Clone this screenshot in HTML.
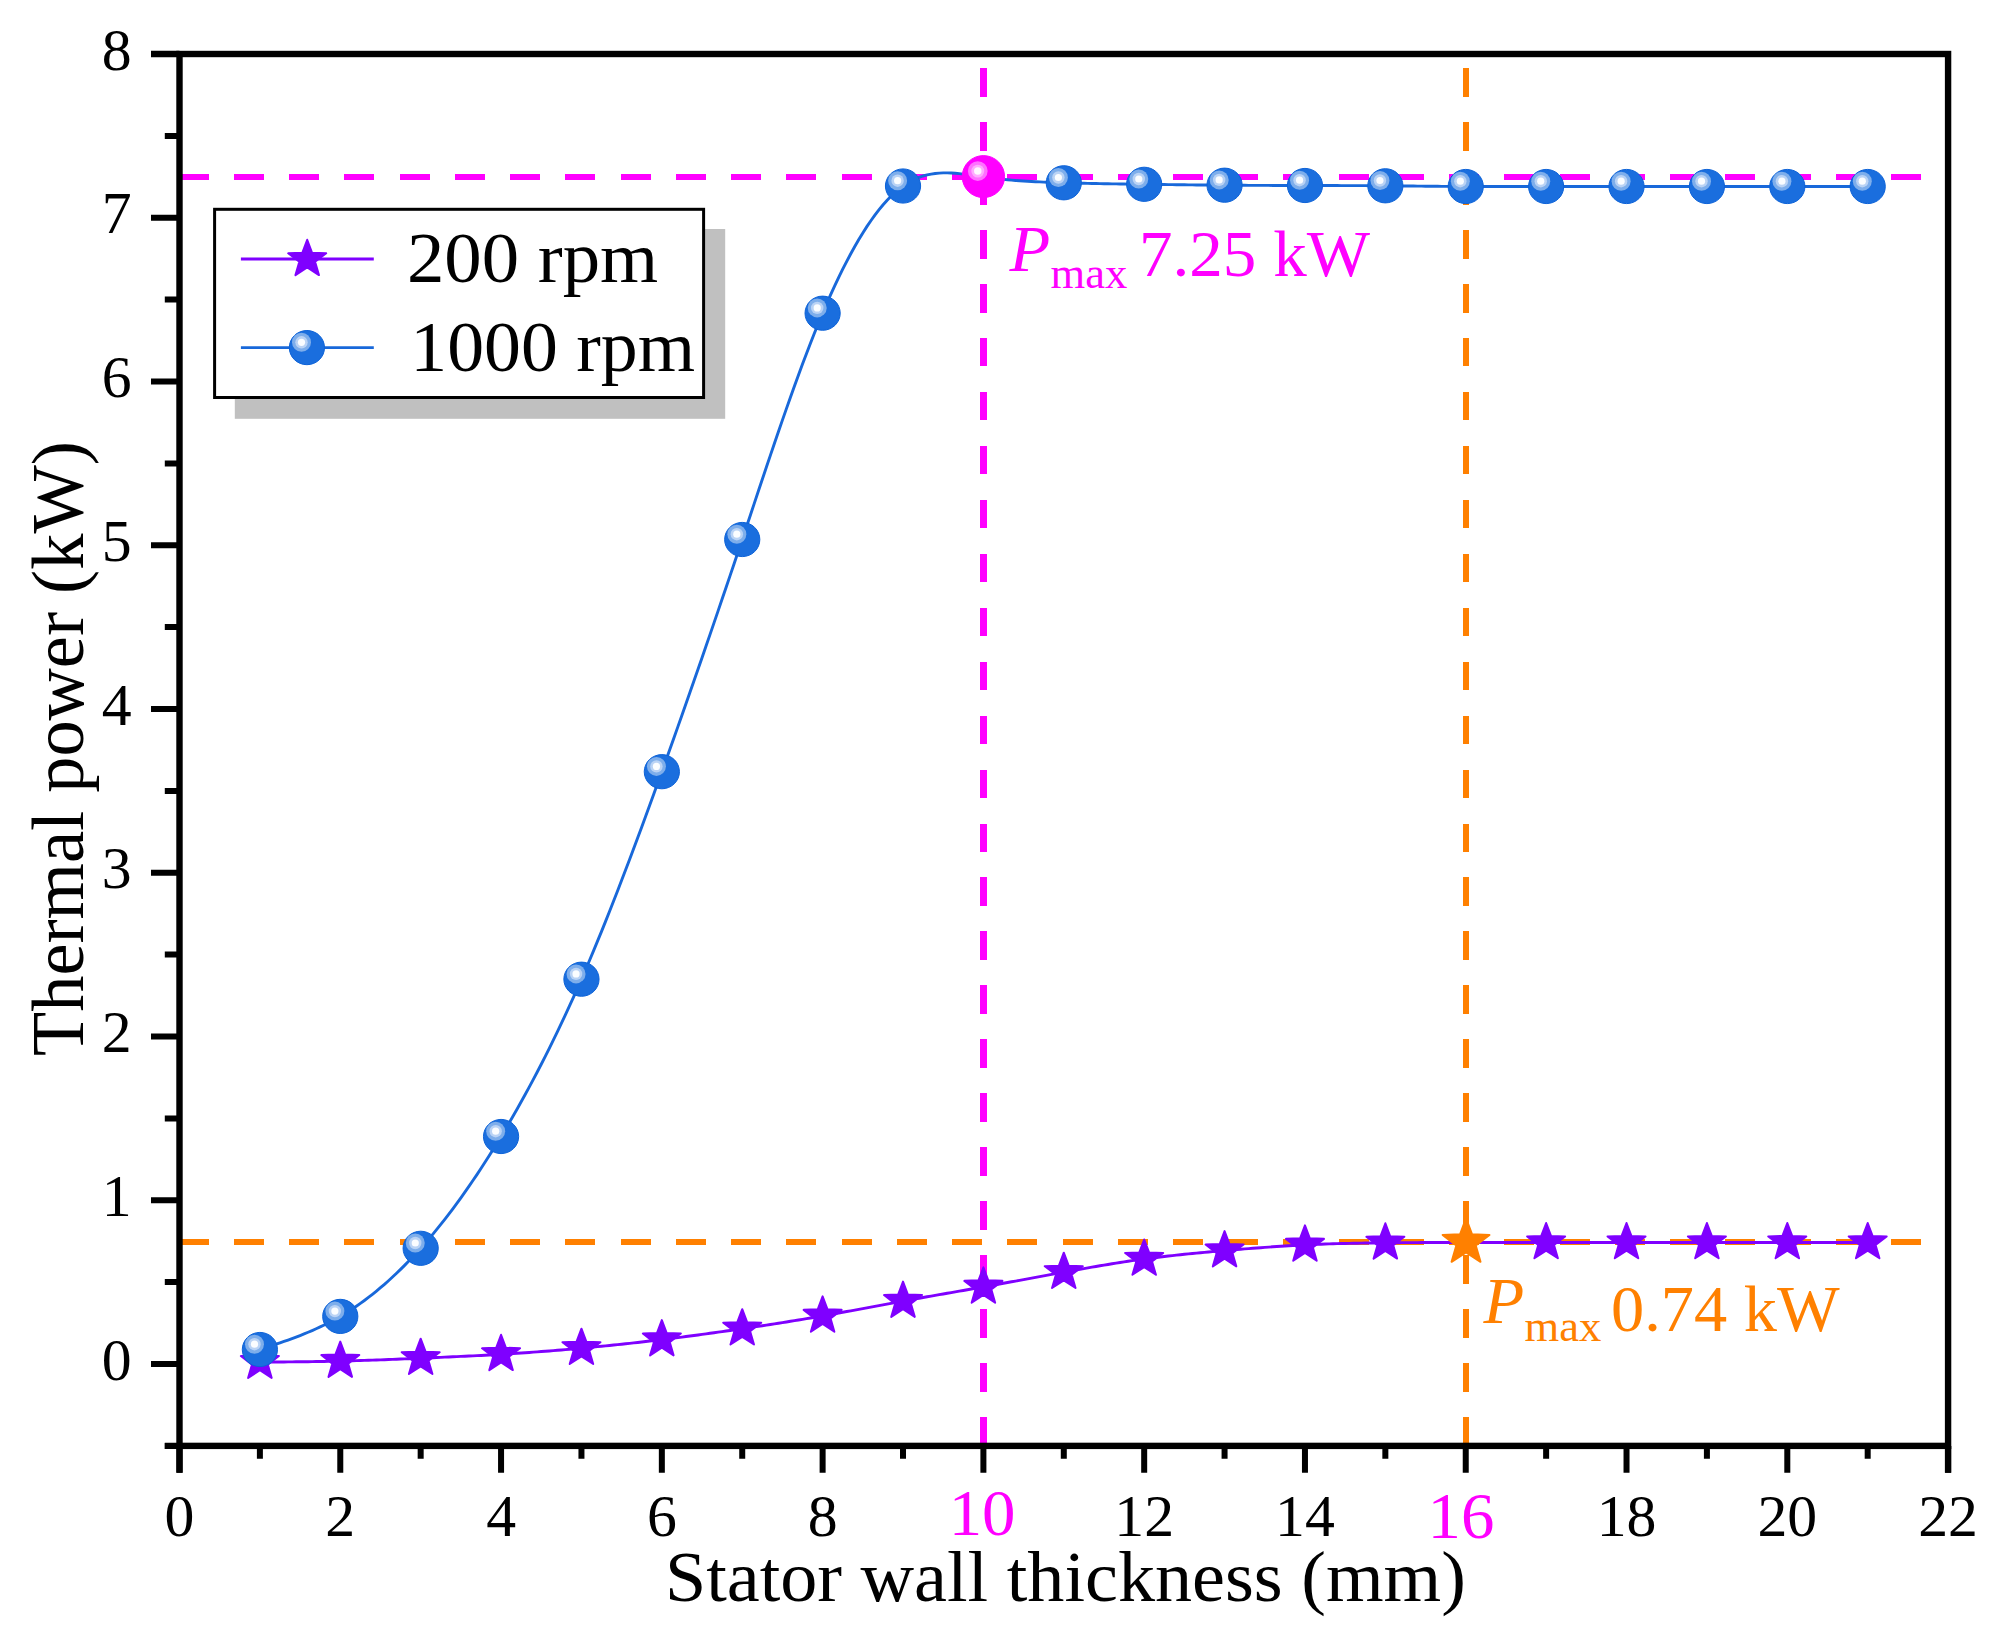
<!DOCTYPE html>
<html lang="en"><head><meta charset="utf-8"><title>Thermal power vs stator wall thickness</title>
<style>html,body{margin:0;padding:0;background:#fff}svg{display:block}text{font-family:'Liberation Serif',serif}</style></head><body>
<svg width="1999" height="1641" viewBox="0 0 1999 1641">
<rect width="1999" height="1641" fill="#fff"/>
<g fill="none" shape-rendering="crispEdges">
<line x1="178.7" y1="1242.1" x2="1948.08" y2="1242.1" stroke="#ff8000" stroke-width="6.5" stroke-dasharray="30 25.24"/>
<line x1="178.7" y1="176.8" x2="1948.08" y2="176.8" stroke="#ff00ff" stroke-width="6.5" stroke-dasharray="30 25.24"/>
<line x1="983.4" y1="1445.88" x2="983.4" y2="54" stroke="#ff00ff" stroke-width="7" stroke-dasharray="28.7 25.27"/>
<line x1="1466.04" y1="1445.88" x2="1466.04" y2="54" stroke="#ff8000" stroke-width="6" stroke-dasharray="28.7 25.27"/>
</g>
<path d="M259.89,1362.1 L263.91,1362.07 L267.93,1362.05 L271.95,1362.02 L275.97,1361.99 L279.99,1361.96 L284.01,1361.93 L288.03,1361.89 L292.05,1361.86 L296.07,1361.82 L300.09,1361.78 L304.1,1361.73 L308.12,1361.68 L312.14,1361.63 L316.16,1361.57 L320.18,1361.5 L324.2,1361.44 L328.22,1361.36 L332.24,1361.28 L336.26,1361.19 L340.28,1361.1 L344.3,1361 L348.32,1360.89 L352.34,1360.78 L356.36,1360.66 L360.38,1360.53 L364.4,1360.4 L368.42,1360.27 L372.44,1360.13 L376.46,1359.98 L380.48,1359.83 L384.49,1359.68 L388.51,1359.53 L392.53,1359.37 L396.55,1359.21 L400.57,1359.04 L404.59,1358.88 L408.61,1358.71 L412.63,1358.54 L416.65,1358.37 L420.67,1358.2 L424.69,1358.03 L428.71,1357.86 L432.73,1357.68 L436.75,1357.51 L440.77,1357.34 L444.79,1357.16 L448.81,1356.98 L452.83,1356.8 L456.85,1356.61 L460.87,1356.42 L464.88,1356.23 L468.9,1356.04 L472.92,1355.84 L476.94,1355.63 L480.96,1355.43 L484.98,1355.21 L489,1354.99 L493.02,1354.77 L497.04,1354.54 L501.06,1354.3 L505.08,1354.06 L509.1,1353.81 L513.12,1353.55 L517.14,1353.29 L521.16,1353.02 L525.18,1352.74 L529.2,1352.46 L533.22,1352.17 L537.24,1351.87 L541.25,1351.57 L545.27,1351.26 L549.29,1350.95 L553.31,1350.63 L557.33,1350.3 L561.35,1349.96 L565.37,1349.62 L569.39,1349.28 L573.41,1348.92 L577.43,1348.57 L581.45,1348.2 L585.47,1347.83 L589.49,1347.45 L593.51,1347.07 L597.53,1346.68 L601.55,1346.28 L605.57,1345.88 L609.59,1345.47 L613.61,1345.06 L617.63,1344.64 L621.64,1344.21 L625.66,1343.78 L629.68,1343.34 L633.7,1342.89 L637.72,1342.44 L641.74,1341.98 L645.76,1341.52 L649.78,1341.05 L653.8,1340.57 L657.82,1340.09 L661.84,1339.6 L665.86,1339.11 L669.88,1338.6 L673.9,1338.1 L677.92,1337.58 L681.94,1337.07 L685.96,1336.54 L689.98,1336.01 L694,1335.48 L698.02,1334.94 L702.03,1334.39 L706.05,1333.85 L710.07,1333.29 L714.09,1332.73 L718.11,1332.17 L722.13,1331.6 L726.15,1331.03 L730.17,1330.45 L734.19,1329.87 L738.21,1329.29 L742.23,1328.7 L746.25,1328.11 L750.27,1327.51 L754.29,1326.91 L758.31,1326.31 L762.33,1325.7 L766.35,1325.09 L770.37,1324.47 L774.39,1323.85 L778.41,1323.22 L782.42,1322.59 L786.44,1321.95 L790.46,1321.3 L794.48,1320.65 L798.5,1319.99 L802.52,1319.33 L806.54,1318.66 L810.56,1317.98 L814.58,1317.29 L818.6,1316.6 L822.62,1315.9 L826.64,1315.19 L830.66,1314.48 L834.68,1313.75 L838.7,1313.03 L842.72,1312.29 L846.74,1311.55 L850.76,1310.81 L854.78,1310.07 L858.8,1309.32 L862.82,1308.57 L866.83,1307.82 L870.85,1307.06 L874.87,1306.31 L878.89,1305.56 L882.91,1304.81 L886.93,1304.06 L890.95,1303.32 L894.97,1302.57 L898.99,1301.83 L903.01,1301.1 L907.03,1300.37 L911.05,1299.65 L915.07,1298.93 L919.09,1298.21 L923.11,1297.5 L927.13,1296.79 L931.15,1296.08 L935.17,1295.37 L939.19,1294.67 L943.21,1293.97 L947.22,1293.26 L951.24,1292.56 L955.26,1291.86 L959.28,1291.16 L963.3,1290.45 L967.32,1289.75 L971.34,1289.04 L975.36,1288.33 L979.38,1287.62 L983.4,1286.9 L987.42,1286.18 L991.44,1285.46 L995.46,1284.73 L999.48,1284 L1003.5,1283.27 L1007.52,1282.54 L1011.54,1281.8 L1015.56,1281.06 L1019.58,1280.32 L1023.6,1279.58 L1027.61,1278.84 L1031.63,1278.1 L1035.65,1277.36 L1039.67,1276.62 L1043.69,1275.88 L1047.71,1275.14 L1051.73,1274.4 L1055.75,1273.67 L1059.77,1272.93 L1063.79,1272.2 L1067.81,1271.47 L1071.83,1270.74 L1075.85,1270.02 L1079.87,1269.3 L1083.89,1268.59 L1087.91,1267.88 L1091.93,1267.18 L1095.95,1266.49 L1099.97,1265.8 L1103.99,1265.12 L1108,1264.46 L1112.02,1263.8 L1116.04,1263.15 L1120.06,1262.52 L1124.08,1261.9 L1128.1,1261.29 L1132.12,1260.69 L1136.14,1260.11 L1140.16,1259.55 L1144.18,1259 L1148.2,1258.47 L1152.22,1257.95 L1156.24,1257.45 L1160.26,1256.96 L1164.28,1256.49 L1168.3,1256.03 L1172.32,1255.58 L1176.34,1255.15 L1180.36,1254.72 L1184.38,1254.31 L1188.39,1253.9 L1192.41,1253.51 L1196.43,1253.12 L1200.45,1252.75 L1204.47,1252.37 L1208.49,1252.01 L1212.51,1251.65 L1216.53,1251.3 L1220.55,1250.95 L1224.57,1250.6 L1228.59,1250.26 L1232.61,1249.92 L1236.63,1249.58 L1240.65,1249.25 L1244.67,1248.92 L1248.69,1248.6 L1252.71,1248.29 L1256.73,1247.98 L1260.75,1247.68 L1264.77,1247.38 L1268.78,1247.09 L1272.8,1246.81 L1276.82,1246.54 L1280.84,1246.27 L1284.86,1246.02 L1288.88,1245.77 L1292.9,1245.54 L1296.92,1245.32 L1300.94,1245.1 L1304.96,1244.9 L1308.98,1244.71 L1313,1244.53 L1317.02,1244.36 L1321.04,1244.21 L1325.06,1244.06 L1329.08,1243.92 L1333.1,1243.79 L1337.12,1243.67 L1341.14,1243.56 L1345.15,1243.46 L1349.17,1243.37 L1353.19,1243.28 L1357.21,1243.2 L1361.23,1243.13 L1365.25,1243.06 L1369.27,1243 L1373.29,1242.94 L1377.31,1242.89 L1381.33,1242.84 L1385.35,1242.8 L1389.37,1242.76 L1393.39,1242.73 L1397.41,1242.69 L1401.43,1242.67 L1405.45,1242.64 L1409.47,1242.62 L1413.49,1242.6 L1417.51,1242.58 L1421.53,1242.56 L1425.55,1242.55 L1429.56,1242.54 L1433.58,1242.53 L1437.6,1242.52 L1441.62,1242.52 L1445.64,1242.51 L1449.66,1242.51 L1453.68,1242.51 L1457.7,1242.5 L1461.72,1242.5 L1465.74,1242.5 L1469.76,1242.5 L1473.78,1242.5 L1477.8,1242.5 L1481.82,1242.5 L1485.84,1242.5 L1489.86,1242.5 L1493.88,1242.5 L1497.9,1242.5 L1501.92,1242.5 L1505.93,1242.5 L1509.95,1242.5 L1513.97,1242.5 L1517.99,1242.5 L1522.01,1242.5 L1526.03,1242.5 L1530.05,1242.5 L1534.07,1242.5 L1538.09,1242.5 L1542.11,1242.5 L1546.13,1242.5 L1550.15,1242.5 L1554.17,1242.5 L1558.19,1242.5 L1562.21,1242.5 L1566.23,1242.5 L1570.25,1242.5 L1574.27,1242.5 L1578.29,1242.5 L1582.31,1242.5 L1586.33,1242.5 L1590.34,1242.5 L1594.36,1242.5 L1598.38,1242.5 L1602.4,1242.5 L1606.42,1242.5 L1610.44,1242.5 L1614.46,1242.5 L1618.48,1242.5 L1622.5,1242.5 L1626.52,1242.5 L1630.54,1242.5 L1634.56,1242.5 L1638.58,1242.5 L1642.6,1242.5 L1646.62,1242.5 L1650.64,1242.5 L1654.66,1242.5 L1658.68,1242.5 L1662.7,1242.5 L1666.71,1242.5 L1670.73,1242.5 L1674.75,1242.5 L1678.77,1242.5 L1682.79,1242.5 L1686.81,1242.5 L1690.83,1242.5 L1694.85,1242.5 L1698.87,1242.5 L1702.89,1242.5 L1706.91,1242.5 L1710.93,1242.5 L1714.95,1242.5 L1718.97,1242.5 L1722.99,1242.5 L1727.01,1242.5 L1731.03,1242.5 L1735.05,1242.5 L1739.07,1242.5 L1743.09,1242.5 L1747.11,1242.5 L1751.12,1242.5 L1755.14,1242.5 L1759.16,1242.5 L1763.18,1242.5 L1767.2,1242.5 L1771.22,1242.5 L1775.24,1242.5 L1779.26,1242.5 L1783.28,1242.5 L1787.3,1242.5 L1791.32,1242.5 L1795.34,1242.5 L1799.36,1242.5 L1803.38,1242.5 L1807.4,1242.5 L1811.42,1242.5 L1815.44,1242.5 L1819.46,1242.5 L1823.48,1242.5 L1827.5,1242.5 L1831.51,1242.5 L1835.53,1242.5 L1839.55,1242.5 L1843.57,1242.5 L1847.59,1242.5 L1851.61,1242.5 L1855.63,1242.5 L1859.65,1242.5 L1863.67,1242.5 L1867.69,1242.5" fill="none" stroke="#7f00ff" stroke-width="2.9"/>
<polygon points="259.89,1342.6 264.77,1355.55 278.9,1356.07 267.78,1364.6 271.64,1377.88 259.89,1370.19 248.14,1377.88 252,1364.6 240.88,1356.07 255.01,1355.55" fill="#7f00ff" stroke="#7f00ff" stroke-width="2" stroke-linejoin="round"/>
<polygon points="340.28,1341.6 345.16,1354.55 359.29,1355.07 348.17,1363.6 352.03,1376.88 340.28,1369.19 328.53,1376.88 332.39,1363.6 321.27,1355.07 335.4,1354.55" fill="#7f00ff" stroke="#7f00ff" stroke-width="2" stroke-linejoin="round"/>
<polygon points="420.67,1338.7 425.55,1351.65 439.68,1352.17 428.56,1360.7 432.42,1373.98 420.67,1366.29 408.92,1373.98 412.78,1360.7 401.66,1352.17 415.79,1351.65" fill="#7f00ff" stroke="#7f00ff" stroke-width="2" stroke-linejoin="round"/>
<polygon points="501.06,1334.8 505.94,1347.75 520.07,1348.27 508.95,1356.8 512.81,1370.08 501.06,1362.39 489.31,1370.08 493.17,1356.8 482.05,1348.27 496.18,1347.75" fill="#7f00ff" stroke="#7f00ff" stroke-width="2" stroke-linejoin="round"/>
<polygon points="581.45,1328.7 586.33,1341.65 600.46,1342.17 589.34,1350.7 593.2,1363.98 581.45,1356.29 569.7,1363.98 573.56,1350.7 562.44,1342.17 576.57,1341.65" fill="#7f00ff" stroke="#7f00ff" stroke-width="2" stroke-linejoin="round"/>
<polygon points="661.84,1320.1 666.72,1333.05 680.85,1333.57 669.73,1342.1 673.59,1355.38 661.84,1347.69 650.09,1355.38 653.95,1342.1 642.83,1333.57 656.96,1333.05" fill="#7f00ff" stroke="#7f00ff" stroke-width="2" stroke-linejoin="round"/>
<polygon points="742.23,1309.2 747.11,1322.15 761.24,1322.67 750.12,1331.2 753.98,1344.48 742.23,1336.79 730.48,1344.48 734.34,1331.2 723.22,1322.67 737.35,1322.15" fill="#7f00ff" stroke="#7f00ff" stroke-width="2" stroke-linejoin="round"/>
<polygon points="822.62,1296.4 827.5,1309.35 841.63,1309.87 830.51,1318.4 834.37,1331.68 822.62,1323.99 810.87,1331.68 814.73,1318.4 803.61,1309.87 817.74,1309.35" fill="#7f00ff" stroke="#7f00ff" stroke-width="2" stroke-linejoin="round"/>
<polygon points="903.01,1281.6 907.89,1294.55 922.02,1295.07 910.9,1303.6 914.76,1316.88 903.01,1309.19 891.26,1316.88 895.12,1303.6 884,1295.07 898.13,1294.55" fill="#7f00ff" stroke="#7f00ff" stroke-width="2" stroke-linejoin="round"/>
<polygon points="983.4,1267.4 988.28,1280.35 1002.41,1280.87 991.29,1289.4 995.15,1302.68 983.4,1294.99 971.65,1302.68 975.51,1289.4 964.39,1280.87 978.52,1280.35" fill="#7f00ff" stroke="#7f00ff" stroke-width="2" stroke-linejoin="round"/>
<polygon points="1063.79,1252.7 1068.67,1265.65 1082.8,1266.17 1071.68,1274.7 1075.54,1287.98 1063.79,1280.29 1052.04,1287.98 1055.9,1274.7 1044.78,1266.17 1058.91,1265.65" fill="#7f00ff" stroke="#7f00ff" stroke-width="2" stroke-linejoin="round"/>
<polygon points="1144.18,1239.5 1149.06,1252.45 1163.19,1252.97 1152.07,1261.5 1155.93,1274.78 1144.18,1267.09 1132.43,1274.78 1136.29,1261.5 1125.17,1252.97 1139.3,1252.45" fill="#7f00ff" stroke="#7f00ff" stroke-width="2" stroke-linejoin="round"/>
<polygon points="1224.57,1231.1 1229.45,1244.05 1243.58,1244.57 1232.46,1253.1 1236.32,1266.38 1224.57,1258.69 1212.82,1266.38 1216.68,1253.1 1205.56,1244.57 1219.69,1244.05" fill="#7f00ff" stroke="#7f00ff" stroke-width="2" stroke-linejoin="round"/>
<polygon points="1304.96,1225.4 1309.84,1238.35 1323.97,1238.87 1312.85,1247.4 1316.71,1260.68 1304.96,1252.99 1293.21,1260.68 1297.07,1247.4 1285.95,1238.87 1300.08,1238.35" fill="#7f00ff" stroke="#7f00ff" stroke-width="2" stroke-linejoin="round"/>
<polygon points="1385.35,1223.3 1390.23,1236.25 1404.36,1236.77 1393.24,1245.3 1397.1,1258.58 1385.35,1250.89 1373.6,1258.58 1377.46,1245.3 1366.34,1236.77 1380.47,1236.25" fill="#7f00ff" stroke="#7f00ff" stroke-width="2" stroke-linejoin="round"/>
<polygon points="1546.13,1223 1551.01,1235.95 1565.14,1236.47 1554.02,1245 1557.88,1258.28 1546.13,1250.59 1534.38,1258.28 1538.24,1245 1527.12,1236.47 1541.25,1235.95" fill="#7f00ff" stroke="#7f00ff" stroke-width="2" stroke-linejoin="round"/>
<polygon points="1626.52,1223 1631.4,1235.95 1645.53,1236.47 1634.41,1245 1638.27,1258.28 1626.52,1250.59 1614.77,1258.28 1618.63,1245 1607.51,1236.47 1621.64,1235.95" fill="#7f00ff" stroke="#7f00ff" stroke-width="2" stroke-linejoin="round"/>
<polygon points="1706.91,1223 1711.79,1235.95 1725.92,1236.47 1714.8,1245 1718.66,1258.28 1706.91,1250.59 1695.16,1258.28 1699.02,1245 1687.9,1236.47 1702.03,1235.95" fill="#7f00ff" stroke="#7f00ff" stroke-width="2" stroke-linejoin="round"/>
<polygon points="1787.3,1223 1792.18,1235.95 1806.31,1236.47 1795.19,1245 1799.05,1258.28 1787.3,1250.59 1775.55,1258.28 1779.41,1245 1768.29,1236.47 1782.42,1235.95" fill="#7f00ff" stroke="#7f00ff" stroke-width="2" stroke-linejoin="round"/>
<polygon points="1867.69,1223 1872.57,1235.95 1886.7,1236.47 1875.58,1245 1879.44,1258.28 1867.69,1250.59 1855.94,1258.28 1859.8,1245 1848.68,1236.47 1862.81,1235.95" fill="#7f00ff" stroke="#7f00ff" stroke-width="2" stroke-linejoin="round"/>
<path d="M259.89,1349.5 L263.91,1348.19 L267.93,1346.87 L271.95,1345.54 L275.97,1344.2 L279.99,1342.84 L284.01,1341.45 L288.03,1340.03 L292.05,1338.57 L296.07,1337.08 L300.09,1335.53 L304.1,1333.94 L308.12,1332.28 L312.14,1330.57 L316.16,1328.79 L320.18,1326.93 L324.2,1325 L328.22,1322.99 L332.24,1320.89 L336.26,1318.69 L340.28,1316.4 L344.3,1314 L348.32,1311.51 L352.34,1308.9 L356.36,1306.19 L360.38,1303.38 L364.4,1300.46 L368.42,1297.44 L372.44,1294.31 L376.46,1291.07 L380.48,1287.73 L384.49,1284.28 L388.51,1280.72 L392.53,1277.05 L396.55,1273.27 L400.57,1269.38 L404.59,1265.39 L408.61,1261.28 L412.63,1257.07 L416.65,1252.74 L420.67,1248.3 L424.69,1243.75 L428.71,1239.09 L432.73,1234.31 L436.75,1229.43 L440.77,1224.44 L444.79,1219.33 L448.81,1214.12 L452.83,1208.79 L456.85,1203.36 L460.87,1197.82 L464.88,1192.17 L468.9,1186.41 L472.92,1180.55 L476.94,1174.57 L480.96,1168.49 L484.98,1162.31 L489,1156.01 L493.02,1149.62 L497.04,1143.11 L501.06,1136.5 L505.08,1129.78 L509.1,1122.96 L513.12,1116.03 L517.14,1108.98 L521.16,1101.83 L525.18,1094.55 L529.2,1087.16 L533.22,1079.64 L537.24,1072 L541.25,1064.24 L545.27,1056.35 L549.29,1048.33 L553.31,1040.17 L557.33,1031.89 L561.35,1023.46 L565.37,1014.9 L569.39,1006.19 L573.41,997.34 L577.43,988.34 L581.45,979.2 L585.47,969.91 L589.49,960.47 L593.51,950.89 L597.53,941.17 L601.55,931.33 L605.57,921.36 L609.59,911.28 L613.61,901.07 L617.63,890.77 L621.64,880.35 L625.66,869.84 L629.68,859.24 L633.7,848.55 L637.72,837.77 L641.74,826.92 L645.76,816 L649.78,805.01 L653.8,793.96 L657.82,782.86 L661.84,771.7 L665.86,760.5 L669.88,749.25 L673.9,737.96 L677.92,726.62 L681.94,715.24 L685.96,703.81 L689.98,692.35 L694,680.83 L698.02,669.28 L702.03,657.69 L706.05,646.05 L710.07,634.37 L714.09,622.65 L718.11,610.89 L722.13,599.09 L726.15,587.25 L730.17,575.37 L734.19,563.45 L738.21,551.5 L742.23,539.5 L746.25,527.47 L750.27,515.42 L754.29,503.36 L758.31,491.31 L762.33,479.29 L766.35,467.31 L770.37,455.39 L774.39,443.55 L778.41,431.8 L782.42,420.15 L786.44,408.63 L790.46,397.25 L794.48,386.03 L798.5,374.98 L802.52,364.12 L806.54,353.46 L810.56,343.02 L814.58,332.82 L818.6,322.88 L822.62,313.2 L826.64,303.81 L830.66,294.71 L834.68,285.9 L838.7,277.39 L842.72,269.19 L846.74,261.3 L850.76,253.72 L854.78,246.46 L858.8,239.53 L862.82,232.92 L866.83,226.65 L870.85,220.72 L874.87,215.13 L878.89,209.88 L882.91,204.99 L886.93,200.46 L890.95,196.29 L894.97,192.49 L898.99,189.05 L903.01,186 L907.03,183.32 L911.05,181 L915.07,179.03 L919.09,177.37 L923.11,176 L927.13,174.92 L931.15,174.09 L935.17,173.49 L939.19,173.11 L943.21,172.92 L947.22,172.9 L951.24,173.04 L955.26,173.3 L959.28,173.67 L963.3,174.13 L967.32,174.65 L971.34,175.22 L975.36,175.82 L979.38,176.42 L983.4,177 L987.42,177.55 L991.44,178.06 L995.46,178.53 L999.48,178.98 L1003.5,179.39 L1007.52,179.77 L1011.54,180.12 L1015.56,180.44 L1019.58,180.74 L1023.6,181.02 L1027.61,181.27 L1031.63,181.5 L1035.65,181.72 L1039.67,181.91 L1043.69,182.09 L1047.71,182.25 L1051.73,182.41 L1055.75,182.55 L1059.77,182.68 L1063.79,182.8 L1067.81,182.92 L1071.83,183.03 L1075.85,183.13 L1079.87,183.23 L1083.89,183.32 L1087.91,183.41 L1091.93,183.49 L1095.95,183.57 L1099.97,183.64 L1103.99,183.72 L1108,183.78 L1112.02,183.85 L1116.04,183.91 L1120.06,183.97 L1124.08,184.03 L1128.1,184.09 L1132.12,184.14 L1136.14,184.19 L1140.16,184.25 L1144.18,184.3 L1148.2,184.35 L1152.22,184.41 L1156.24,184.46 L1160.26,184.51 L1164.28,184.56 L1168.3,184.61 L1172.32,184.66 L1176.34,184.71 L1180.36,184.76 L1184.38,184.81 L1188.39,184.85 L1192.41,184.9 L1196.43,184.94 L1200.45,184.98 L1204.47,185.02 L1208.49,185.06 L1212.51,185.1 L1216.53,185.14 L1220.55,185.17 L1224.57,185.2 L1228.59,185.23 L1232.61,185.26 L1236.63,185.28 L1240.65,185.3 L1244.67,185.32 L1248.69,185.34 L1252.71,185.36 L1256.73,185.38 L1260.75,185.39 L1264.77,185.41 L1268.78,185.42 L1272.8,185.43 L1276.82,185.44 L1280.84,185.45 L1284.86,185.46 L1288.88,185.47 L1292.9,185.48 L1296.92,185.49 L1300.94,185.49 L1304.96,185.5 L1308.98,185.51 L1313,185.51 L1317.02,185.52 L1321.04,185.53 L1325.06,185.54 L1329.08,185.55 L1333.1,185.56 L1337.12,185.57 L1341.14,185.58 L1345.15,185.59 L1349.17,185.61 L1353.19,185.62 L1357.21,185.64 L1361.23,185.65 L1365.25,185.67 L1369.27,185.69 L1373.29,185.72 L1377.31,185.74 L1381.33,185.77 L1385.35,185.8 L1389.37,185.83 L1393.39,185.87 L1397.41,185.9 L1401.43,185.94 L1405.45,185.98 L1409.47,186.02 L1413.49,186.06 L1417.51,186.1 L1421.53,186.14 L1425.55,186.18 L1429.56,186.22 L1433.58,186.26 L1437.6,186.29 L1441.62,186.33 L1445.64,186.36 L1449.66,186.4 L1453.68,186.43 L1457.7,186.45 L1461.72,186.48 L1465.74,186.5 L1469.76,186.52 L1473.78,186.53 L1477.8,186.55 L1481.82,186.55 L1485.84,186.56 L1489.86,186.57 L1493.88,186.57 L1497.9,186.57 L1501.92,186.57 L1505.93,186.56 L1509.95,186.56 L1513.97,186.55 L1517.99,186.55 L1522.01,186.54 L1526.03,186.53 L1530.05,186.53 L1534.07,186.52 L1538.09,186.51 L1542.11,186.51 L1546.13,186.5 L1550.15,186.5 L1554.17,186.49 L1558.19,186.49 L1562.21,186.49 L1566.23,186.48 L1570.25,186.48 L1574.27,186.48 L1578.29,186.48 L1582.31,186.48 L1586.33,186.48 L1590.34,186.48 L1594.36,186.49 L1598.38,186.49 L1602.4,186.49 L1606.42,186.49 L1610.44,186.49 L1614.46,186.49 L1618.48,186.5 L1622.5,186.5 L1626.52,186.5 L1630.54,186.5 L1634.56,186.5 L1638.58,186.5 L1642.6,186.5 L1646.62,186.5 L1650.64,186.5 L1654.66,186.5 L1658.68,186.5 L1662.7,186.5 L1666.71,186.5 L1670.73,186.5 L1674.75,186.5 L1678.77,186.5 L1682.79,186.5 L1686.81,186.5 L1690.83,186.5 L1694.85,186.5 L1698.87,186.5 L1702.89,186.5 L1706.91,186.5 L1710.93,186.5 L1714.95,186.5 L1718.97,186.5 L1722.99,186.5 L1727.01,186.5 L1731.03,186.5 L1735.05,186.5 L1739.07,186.5 L1743.09,186.5 L1747.11,186.5 L1751.12,186.5 L1755.14,186.5 L1759.16,186.5 L1763.18,186.5 L1767.2,186.5 L1771.22,186.5 L1775.24,186.5 L1779.26,186.5 L1783.28,186.5 L1787.3,186.5 L1791.32,186.5 L1795.34,186.5 L1799.36,186.5 L1803.38,186.5 L1807.4,186.5 L1811.42,186.5 L1815.44,186.5 L1819.46,186.5 L1823.48,186.5 L1827.5,186.5 L1831.51,186.5 L1835.53,186.5 L1839.55,186.5 L1843.57,186.5 L1847.59,186.5 L1851.61,186.5 L1855.63,186.5 L1859.65,186.5 L1863.67,186.5 L1867.69,186.5" fill="none" stroke="#1868da" stroke-width="2.9"/>
<ellipse cx="259.89" cy="1349.5" rx="17.6" ry="17.1" fill="#1a6ede" stroke="#0c62d8" stroke-width="1"/>
<circle cx="254.49" cy="1344.2" r="9.5" fill="#7eaeeb"/>
<circle cx="254.49" cy="1344.2" r="6.2" fill="#bad3f5"/>
<circle cx="254.49" cy="1344.2" r="3.6" fill="#fbfdff"/>
<ellipse cx="340.28" cy="1316.4" rx="17.6" ry="17.1" fill="#1a6ede" stroke="#0c62d8" stroke-width="1"/>
<circle cx="334.88" cy="1311.1" r="9.5" fill="#7eaeeb"/>
<circle cx="334.88" cy="1311.1" r="6.2" fill="#bad3f5"/>
<circle cx="334.88" cy="1311.1" r="3.6" fill="#fbfdff"/>
<ellipse cx="420.67" cy="1248.3" rx="17.6" ry="17.1" fill="#1a6ede" stroke="#0c62d8" stroke-width="1"/>
<circle cx="415.27" cy="1243" r="9.5" fill="#7eaeeb"/>
<circle cx="415.27" cy="1243" r="6.2" fill="#bad3f5"/>
<circle cx="415.27" cy="1243" r="3.6" fill="#fbfdff"/>
<ellipse cx="501.06" cy="1136.5" rx="17.6" ry="17.1" fill="#1a6ede" stroke="#0c62d8" stroke-width="1"/>
<circle cx="495.66" cy="1131.2" r="9.5" fill="#7eaeeb"/>
<circle cx="495.66" cy="1131.2" r="6.2" fill="#bad3f5"/>
<circle cx="495.66" cy="1131.2" r="3.6" fill="#fbfdff"/>
<ellipse cx="581.45" cy="979.2" rx="17.6" ry="17.1" fill="#1a6ede" stroke="#0c62d8" stroke-width="1"/>
<circle cx="576.05" cy="973.9" r="9.5" fill="#7eaeeb"/>
<circle cx="576.05" cy="973.9" r="6.2" fill="#bad3f5"/>
<circle cx="576.05" cy="973.9" r="3.6" fill="#fbfdff"/>
<ellipse cx="661.84" cy="771.7" rx="17.6" ry="17.1" fill="#1a6ede" stroke="#0c62d8" stroke-width="1"/>
<circle cx="656.44" cy="766.4" r="9.5" fill="#7eaeeb"/>
<circle cx="656.44" cy="766.4" r="6.2" fill="#bad3f5"/>
<circle cx="656.44" cy="766.4" r="3.6" fill="#fbfdff"/>
<ellipse cx="742.23" cy="539.5" rx="17.6" ry="17.1" fill="#1a6ede" stroke="#0c62d8" stroke-width="1"/>
<circle cx="736.83" cy="534.2" r="9.5" fill="#7eaeeb"/>
<circle cx="736.83" cy="534.2" r="6.2" fill="#bad3f5"/>
<circle cx="736.83" cy="534.2" r="3.6" fill="#fbfdff"/>
<ellipse cx="822.62" cy="313.2" rx="17.6" ry="17.1" fill="#1a6ede" stroke="#0c62d8" stroke-width="1"/>
<circle cx="817.22" cy="307.9" r="9.5" fill="#7eaeeb"/>
<circle cx="817.22" cy="307.9" r="6.2" fill="#bad3f5"/>
<circle cx="817.22" cy="307.9" r="3.6" fill="#fbfdff"/>
<ellipse cx="903.01" cy="186" rx="17.6" ry="17.1" fill="#1a6ede" stroke="#0c62d8" stroke-width="1"/>
<circle cx="897.61" cy="180.7" r="9.5" fill="#7eaeeb"/>
<circle cx="897.61" cy="180.7" r="6.2" fill="#bad3f5"/>
<circle cx="897.61" cy="180.7" r="3.6" fill="#fbfdff"/>
<ellipse cx="1063.79" cy="182.8" rx="17.6" ry="17.1" fill="#1a6ede" stroke="#0c62d8" stroke-width="1"/>
<circle cx="1058.39" cy="177.5" r="9.5" fill="#7eaeeb"/>
<circle cx="1058.39" cy="177.5" r="6.2" fill="#bad3f5"/>
<circle cx="1058.39" cy="177.5" r="3.6" fill="#fbfdff"/>
<ellipse cx="1144.18" cy="184.3" rx="17.6" ry="17.1" fill="#1a6ede" stroke="#0c62d8" stroke-width="1"/>
<circle cx="1138.78" cy="179" r="9.5" fill="#7eaeeb"/>
<circle cx="1138.78" cy="179" r="6.2" fill="#bad3f5"/>
<circle cx="1138.78" cy="179" r="3.6" fill="#fbfdff"/>
<ellipse cx="1224.57" cy="185.2" rx="17.6" ry="17.1" fill="#1a6ede" stroke="#0c62d8" stroke-width="1"/>
<circle cx="1219.17" cy="179.9" r="9.5" fill="#7eaeeb"/>
<circle cx="1219.17" cy="179.9" r="6.2" fill="#bad3f5"/>
<circle cx="1219.17" cy="179.9" r="3.6" fill="#fbfdff"/>
<ellipse cx="1304.96" cy="185.5" rx="17.6" ry="17.1" fill="#1a6ede" stroke="#0c62d8" stroke-width="1"/>
<circle cx="1299.56" cy="180.2" r="9.5" fill="#7eaeeb"/>
<circle cx="1299.56" cy="180.2" r="6.2" fill="#bad3f5"/>
<circle cx="1299.56" cy="180.2" r="3.6" fill="#fbfdff"/>
<ellipse cx="1385.35" cy="185.8" rx="17.6" ry="17.1" fill="#1a6ede" stroke="#0c62d8" stroke-width="1"/>
<circle cx="1379.95" cy="180.5" r="9.5" fill="#7eaeeb"/>
<circle cx="1379.95" cy="180.5" r="6.2" fill="#bad3f5"/>
<circle cx="1379.95" cy="180.5" r="3.6" fill="#fbfdff"/>
<ellipse cx="1465.74" cy="186.5" rx="17.6" ry="17.1" fill="#1a6ede" stroke="#0c62d8" stroke-width="1"/>
<circle cx="1460.34" cy="181.2" r="9.5" fill="#7eaeeb"/>
<circle cx="1460.34" cy="181.2" r="6.2" fill="#bad3f5"/>
<circle cx="1460.34" cy="181.2" r="3.6" fill="#fbfdff"/>
<ellipse cx="1546.13" cy="186.5" rx="17.6" ry="17.1" fill="#1a6ede" stroke="#0c62d8" stroke-width="1"/>
<circle cx="1540.73" cy="181.2" r="9.5" fill="#7eaeeb"/>
<circle cx="1540.73" cy="181.2" r="6.2" fill="#bad3f5"/>
<circle cx="1540.73" cy="181.2" r="3.6" fill="#fbfdff"/>
<ellipse cx="1626.52" cy="186.5" rx="17.6" ry="17.1" fill="#1a6ede" stroke="#0c62d8" stroke-width="1"/>
<circle cx="1621.12" cy="181.2" r="9.5" fill="#7eaeeb"/>
<circle cx="1621.12" cy="181.2" r="6.2" fill="#bad3f5"/>
<circle cx="1621.12" cy="181.2" r="3.6" fill="#fbfdff"/>
<ellipse cx="1706.91" cy="186.5" rx="17.6" ry="17.1" fill="#1a6ede" stroke="#0c62d8" stroke-width="1"/>
<circle cx="1701.51" cy="181.2" r="9.5" fill="#7eaeeb"/>
<circle cx="1701.51" cy="181.2" r="6.2" fill="#bad3f5"/>
<circle cx="1701.51" cy="181.2" r="3.6" fill="#fbfdff"/>
<ellipse cx="1787.3" cy="186.5" rx="17.6" ry="17.1" fill="#1a6ede" stroke="#0c62d8" stroke-width="1"/>
<circle cx="1781.9" cy="181.2" r="9.5" fill="#7eaeeb"/>
<circle cx="1781.9" cy="181.2" r="6.2" fill="#bad3f5"/>
<circle cx="1781.9" cy="181.2" r="3.6" fill="#fbfdff"/>
<ellipse cx="1867.69" cy="186.5" rx="17.6" ry="17.1" fill="#1a6ede" stroke="#0c62d8" stroke-width="1"/>
<circle cx="1862.29" cy="181.2" r="9.5" fill="#7eaeeb"/>
<circle cx="1862.29" cy="181.2" r="6.2" fill="#bad3f5"/>
<circle cx="1862.29" cy="181.2" r="3.6" fill="#fbfdff"/>
<polygon points="1466.04,1218.4 1472.04,1234.34 1489.44,1234.98 1475.75,1245.48 1480.5,1261.82 1466.04,1252.36 1451.58,1261.82 1456.33,1245.48 1442.64,1234.98 1460.04,1234.34" fill="#ff8000" stroke="#ff8000" stroke-width="2" stroke-linejoin="round"/>
<ellipse cx="983.4" cy="176.6" rx="21.2" ry="21" fill="#ff00ff" stroke="#ff00ff" stroke-width="1"/>
<circle cx="977.78" cy="171.09" r="9.88" fill="#ff70ff"/>
<circle cx="977.78" cy="171.09" r="6.45" fill="#ffaaff"/>
<circle cx="977.78" cy="171.09" r="3.74" fill="#fff6ff"/>
<g stroke="#000" fill="none" stroke-linecap="butt">
<rect x="179.5" y="54" width="1768.58" height="1391.88" stroke-width="6.4"/>
<path d="M179.5,1364 H151 M179.5,1200.25 H151 M179.5,1036.5 H151 M179.5,872.75 H151 M179.5,709 H151 M179.5,545.25 H151 M179.5,381.5 H151 M179.5,217.75 H151 M179.5,54 H151 M179.5,1445.88 H164.8 M179.5,1282.12 H164.8 M179.5,1118.38 H164.8 M179.5,954.62 H164.8 M179.5,790.88 H164.8 M179.5,627.12 H164.8 M179.5,463.38 H164.8 M179.5,299.62 H164.8 M179.5,135.88 H164.8 M179.5,1445.88 V1472.8 M340.28,1445.88 V1472.8 M501.06,1445.88 V1472.8 M661.84,1445.88 V1472.8 M822.62,1445.88 V1472.8 M983.4,1445.88 V1472.8 M1144.18,1445.88 V1472.8 M1304.96,1445.88 V1472.8 M1465.74,1445.88 V1472.8 M1626.52,1445.88 V1472.8 M1787.3,1445.88 V1472.8 M1948.08,1445.88 V1472.8 M259.89,1445.88 V1458.8 M420.67,1445.88 V1458.8 M581.45,1445.88 V1458.8 M742.23,1445.88 V1458.8 M903.01,1445.88 V1458.8 M1063.79,1445.88 V1458.8 M1224.57,1445.88 V1458.8 M1385.35,1445.88 V1458.8 M1546.13,1445.88 V1458.8 M1706.91,1445.88 V1458.8 M1867.69,1445.88 V1458.8" stroke-width="6"/>
<path d="M179.5,1445.88 V1472.8 M1948.08,1445.88 V1472.8 M179.5,54 H151 M179.5,1445.88 H164.8" stroke-width="6.4"/>
</g>
<rect x="234.8" y="229" width="490.4" height="189.8" fill="#c0c0c0"/>
<rect x="214.6" y="209.3" width="489" height="188.2" fill="#fff" stroke="#000" stroke-width="3"/>
<line x1="240.9" y1="259" x2="373.8" y2="259" stroke="#7f00ff" stroke-width="2.9"/>
<polygon points="307.2,239.8 312.08,252.75 326.21,253.27 315.09,261.8 318.95,275.08 307.2,267.39 295.45,275.08 299.31,261.8 288.19,253.27 302.32,252.75" fill="#7f00ff" stroke="#7f00ff" stroke-width="2" stroke-linejoin="round"/>
<line x1="240.9" y1="347.6" x2="373.8" y2="347.6" stroke="#1868da" stroke-width="2.9"/>
<ellipse cx="306.9" cy="347.6" rx="17.6" ry="17.1" fill="#1a6ede" stroke="#0c62d8" stroke-width="1"/>
<circle cx="301.5" cy="342.3" r="9.5" fill="#7eaeeb"/>
<circle cx="301.5" cy="342.3" r="6.2" fill="#bad3f5"/>
<circle cx="301.5" cy="342.3" r="3.6" fill="#fbfdff"/>
<text transform="translate(407,282.4) scale(1.044,1)" font-size="71.6" fill="#000" text-anchor="start">200 rpm</text>
<text transform="translate(410.3,371.3) scale(1.0306,1)" font-size="71.6" fill="#000" text-anchor="start">1000 rpm</text>
<text transform="translate(131.6,1379.7) scale(1.025,1)" font-size="58.3" fill="#000" text-anchor="end">0</text>
<text transform="translate(131.6,1215.95) scale(1.025,1)" font-size="58.3" fill="#000" text-anchor="end">1</text>
<text transform="translate(131.6,1052.2) scale(1.025,1)" font-size="58.3" fill="#000" text-anchor="end">2</text>
<text transform="translate(131.6,888.45) scale(1.025,1)" font-size="58.3" fill="#000" text-anchor="end">3</text>
<text transform="translate(131.6,724.7) scale(1.025,1)" font-size="58.3" fill="#000" text-anchor="end">4</text>
<text transform="translate(131.6,560.95) scale(1.025,1)" font-size="58.3" fill="#000" text-anchor="end">5</text>
<text transform="translate(131.6,397.2) scale(1.025,1)" font-size="58.3" fill="#000" text-anchor="end">6</text>
<text transform="translate(131.6,233.45) scale(1.025,1)" font-size="58.3" fill="#000" text-anchor="end">7</text>
<text transform="translate(131.6,69.7) scale(1.025,1)" font-size="58.3" fill="#000" text-anchor="end">8</text>
<text transform="translate(179.5,1535.7) scale(1.025,1)" font-size="58.3" fill="#000" text-anchor="middle">0</text>
<text transform="translate(340.28,1535.7) scale(1.025,1)" font-size="58.3" fill="#000" text-anchor="middle">2</text>
<text transform="translate(501.06,1535.7) scale(1.025,1)" font-size="58.3" fill="#000" text-anchor="middle">4</text>
<text transform="translate(661.84,1535.7) scale(1.025,1)" font-size="58.3" fill="#000" text-anchor="middle">6</text>
<text transform="translate(822.62,1535.7) scale(1.025,1)" font-size="58.3" fill="#000" text-anchor="middle">8</text>
<text transform="translate(1144.18,1535.7) scale(1.025,1)" font-size="58.3" fill="#000" text-anchor="middle">12</text>
<text transform="translate(1304.96,1535.7) scale(1.025,1)" font-size="58.3" fill="#000" text-anchor="middle">14</text>
<text transform="translate(1626.52,1535.7) scale(1.025,1)" font-size="58.3" fill="#000" text-anchor="middle">18</text>
<text transform="translate(1787.3,1535.7) scale(1.025,1)" font-size="58.3" fill="#000" text-anchor="middle">20</text>
<text transform="translate(1948.08,1535.7) scale(1.025,1)" font-size="58.3" fill="#000" text-anchor="middle">22</text>
<text transform="translate(982.1,1535.2) scale(1.025,1)" font-size="65.2" fill="#ff00ff" text-anchor="middle">10</text>
<text transform="translate(1461,1538.4) scale(1.025,1)" font-size="65.2" fill="#ff00ff" text-anchor="middle">16</text>
<text transform="translate(1065.4,1600.8) scale(1.0357,1)" font-size="71.6" fill="#000" text-anchor="middle">Stator wall thickness (mm)</text>
<text transform="translate(82.9,748.6) rotate(-90) scale(1.0106,1.025)" font-size="71.6" fill="#000" text-anchor="middle">Thermal power (kW)</text>
<text transform="translate(1009.5,270.6) scale(1.025,1)" font-size="65" fill="#ff00ff" text-anchor="start" font-style="italic">P</text>
<text transform="translate(1050.5,287.6) scale(1.025,1)" font-size="43.5" fill="#ff00ff" text-anchor="start">max</text>
<text transform="translate(1139,276.4) scale(1.032,1)" font-size="65" fill="#ff00ff" text-anchor="start">7.25 kW</text>
<text transform="translate(1483.5,1322.6) scale(1.025,1)" font-size="65" fill="#ff8000" text-anchor="start" font-style="italic">P</text>
<text transform="translate(1524.5,1340.6) scale(1.025,1)" font-size="43.5" fill="#ff8000" text-anchor="start">max</text>
<text transform="translate(1611,1330.6) scale(1.022,1)" font-size="65" fill="#ff8000" text-anchor="start">0.74 kW</text>
</svg></body></html>
